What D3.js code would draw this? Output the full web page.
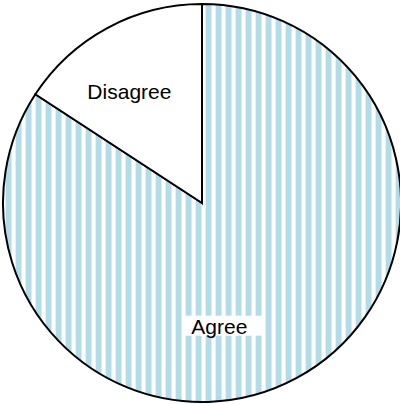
<!DOCTYPE html>
<html>
<head>
<meta charset="utf-8">
<script src="https://cdn.jsdelivr.net/npm/d3@7"></script>
<style>
  html, body { margin: 0; padding: 0; background: #fff; }
  svg { display: block; font-family: "Liberation Sans", Arial, sans-serif; }
</style>
</head>
<body>
<svg id="chart" width="400" height="404"></svg>
<script>
// chart data
const categories = ['Agree', 'Disagree'];
const shares = [84.2, 15.8];

// label placement (angle in degrees from top, distance as fraction of radius)
const labelAngle = { Agree: 172, Disagree: 327 };
const labelDist = { Agree: 0.625, Disagree: 0.67 };

const width = 400, height = 404;
const cx = 202, cy = 203, radius = 199;

const svg = d3.select('#chart');

// vertical stripe pattern for Agree slice
const defs = svg.append('defs');
const pat = defs.append('pattern')
    .attr('id', 'stripes')
    .attr('patternUnits', 'userSpaceOnUse')
    .attr('width', 10)
    .attr('height', 10)
    .attr('x', 204);
pat.append('rect').attr('width', 10).attr('height', 10).attr('fill', '#fff');
pat.append('rect').attr('x', 0).attr('width', 5).attr('height', 10).attr('fill', '#b3dce8');
pat.append('rect').attr('x', 5).attr('width', 1).attr('height', 10).attr('fill', '#d6edf3');
pat.append('rect').attr('x', 9).attr('width', 1).attr('height', 10).attr('fill', '#e3f2f6');

const fills = { Agree: 'url(#stripes)', Disagree: '#fff' };

const data = categories.map((c, i) => ({ name: c, value: shares[i] }));

const pie = d3.pie().sort(null).value(d => d.value);
const arc = d3.arc().innerRadius(0).outerRadius(radius);

const g = svg.append('g').attr('transform', `translate(${cx},${cy})`);

g.selectAll('path.slice')
    .data(pie(data))
    .join('path')
    .attr('class', 'slice')
    .attr('d', arc)
    .attr('fill', d => fills[d.data.name])
    .attr('stroke', '#000')
    .attr('stroke-width', 2)
    .attr('stroke-linejoin', 'miter');

// labels
const labels = g.selectAll('g.label')
    .data(pie(data))
    .join('g')
    .attr('class', 'label')
    .attr('transform', d => {
        const a = labelAngle[d.data.name] * Math.PI / 180;
        const r = labelDist[d.data.name] * radius;
        return `translate(${r * Math.sin(a)},${-r * Math.cos(a)})`;
    });

labels.filter(d => d.data.name === 'Agree')
    .append('rect')
    .attr('x', -37)
    .attr('y', -10.5)
    .attr('width', 81)
    .attr('height', 20)
    .attr('fill', '#fff');

labels.append('text')
    .attr('text-anchor', 'middle')
    .attr('dy', '0.35em')
    .attr('font-size', 21)
    .attr('fill', '#000')
    .text(d => d.data.name);
</script>
</body>
</html>
